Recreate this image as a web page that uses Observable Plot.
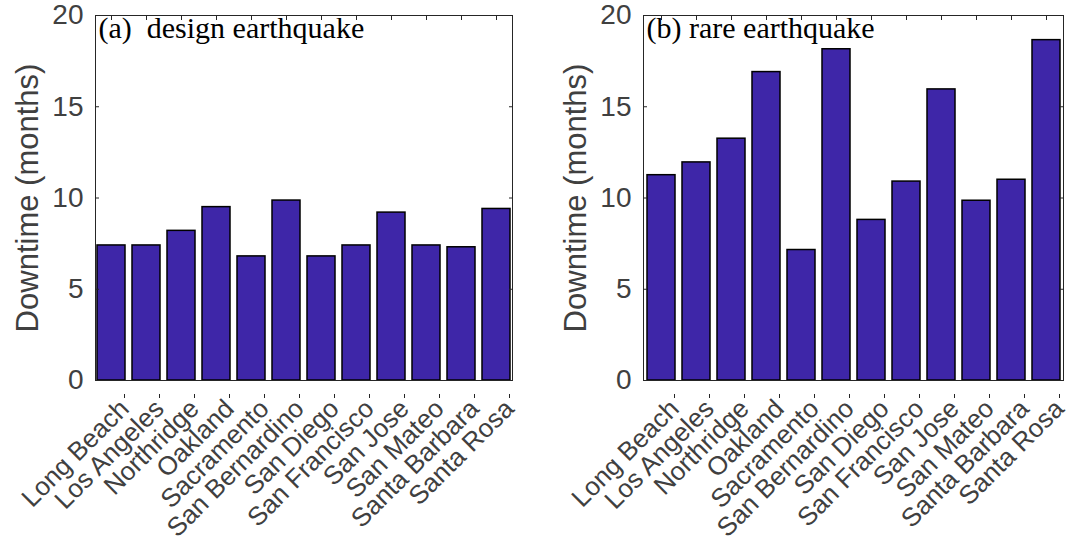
<!DOCTYPE html>
<html>
<head>
<meta charset="utf-8">
<script src="https://cdn.jsdelivr.net/npm/d3@7"></script>
<script src="https://cdn.jsdelivr.net/npm/@observablehq/plot@0.6"></script>
<style>
  html, body { margin: 0; padding: 0; background: #fff; }
  #wrap { display: flex; flex-direction: row; width: 1089px; height: 548px; }
  svg { overflow: visible; }
</style>
</head>
<body>
<div id="wrap"></div>
<script>
const cities = ["Long Beach", "Los Angeles", "Northridge", "Oakland", "Sacramento", "San Bernardino",
  "San Diego", "San Francisco", "San Jose", "San Mateo", "Santa Barbara", "Santa Rosa"];
const designDowntime = [7.4, 7.4, 8.2, 9.5, 6.8, 9.86, 6.8, 7.4, 9.2, 7.4, 7.3, 9.4];
const rareDowntime = [11.25, 11.95, 13.25, 16.9, 7.15, 18.15, 8.8, 10.9, 15.95, 9.85, 11.0, 18.65];
const yTicks = [0, 5, 10, 15, 20];
const panelTitles = ["(a)\u00a0 design earthquake", "(b) rare earthquake"];
const yLabel = "Downtime (months)";

const barColor = "#3E26A8";
const axisColor = "#262626";
const textGray = "#404040";

function panel(values, title, marginLeft, marginRight) {
  const data = cities.map((c, i) => ({city: c, value: values[i]}));
  return Plot.plot({
    width: 545,
    height: 548,
    marginLeft,
    marginRight,
    marginTop: 15,
    marginBottom: 168,
    style: {fontFamily: "'Liberation Sans', Arial, sans-serif", color: axisColor, background: "white"},
    x: {domain: cities, paddingInner: 0.2, paddingOuter: 0, align: 0.5},
    y: {domain: [0, 20]},
    marks: [
      Plot.barY(data, {x: "city", y: "value", fill: barColor, stroke: "#000", strokeWidth: 1.5}),
      Plot.frame({stroke: axisColor, strokeWidth: 1}),
      Plot.axisY({anchor: "left", ticks: yTicks, tickSize: -4, tickPadding: 16, fontSize: 28,
        fill: textGray, stroke: axisColor, label: yLabel, labelAnchor: "center", labelOffset: 80,
        labelArrow: "none"}),
      Plot.axisY({anchor: "right", ticks: yTicks, tickSize: -4, tickFormat: () => "", label: null, stroke: axisColor}),
      Plot.axisX({anchor: "bottom", tickSize: -4, tickRotate: -45, tickPadding: 10, fontSize: 26,
        dx: 13, dy: 18, fill: textGray, stroke: axisColor, label: null}),
      Plot.axisX({anchor: "top", tickSize: -4, tickFormat: () => "", label: null, stroke: axisColor}),
      Plot.text([title], {frameAnchor: "top-left", dx: 3, dy: 1, textAnchor: "start", lineAnchor: "top",
        fontFamily: "'Liberation Serif', 'Times New Roman', serif", fontSize: 30, fill: "#000"})
    ]
  });
}

const wrap = document.getElementById("wrap");
wrap.appendChild(panel(designDowntime, panelTitles[0], 95, 33));
wrap.appendChild(panel(rareDowntime, panelTitles[1], 98, 27));

// style y-axis label like MATLAB (gray, large)
document.querySelectorAll("g[aria-label='y-axis label'] text").forEach(t => {
  t.setAttribute("font-size", 31);
  t.setAttribute("fill", textGray);
});
</script>
</body>
</html>
